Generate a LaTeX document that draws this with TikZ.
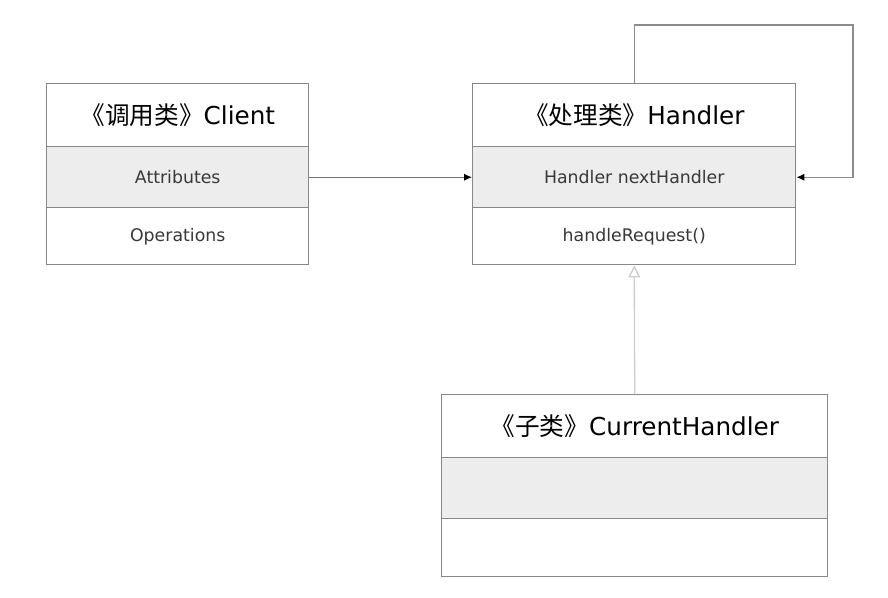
\documentclass[tikz,border=0pt]{standalone}
\usepackage{fontspec}
\setmainfont{DejaVu Sans}
\newfontfamily\cjk{Noto Sans CJK SC}
\usetikzlibrary{arrows.meta}
\begin{document}
\begin{tikzpicture}[x=0.75pt,y=-0.75pt,
  box/.style={draw=black!47, line width=1.1pt, rectangle, inner sep=0pt, anchor=north west, font=\fontsize{13}{15}\selectfont, text=black!78},
  titlebox/.style={box, fill=white, font=\fontsize{18.5}{22}\selectfont, text=black},
  attrbox/.style={box, fill=black!7},
  opbox/.style={box, fill=white},
  assoc/.style={draw=black!55, line width=0.9pt, -{Latex[length=6pt,width=5.5pt,color=black]}},
  inherit/.style={draw=black!20, line width=1pt, -{Triangle[open, length=9pt, width=9pt, fill=white]}}
]
\useasboundingbox (0,0) rectangle (888,598);
% Client
\node[titlebox, minimum width=262*0.75pt, minimum height=63*0.75pt] (ct) at (46,83) {{\cjk 《调用类》}Client};
\node[attrbox, minimum width=262*0.75pt, minimum height=61*0.75pt] (ca) at (46,146) {Attributes};
\node[opbox, minimum width=262*0.75pt, minimum height=57*0.75pt] (co) at (46,207) {Operations};
% Handler
\node[titlebox, minimum width=323*0.75pt, minimum height=63*0.75pt] (ht) at (472,83) {{\cjk 《处理类》}Handler};
\node[attrbox, minimum width=323*0.75pt, minimum height=61*0.75pt] (ha) at (472,146) {Handler nextHandler};
\node[opbox, minimum width=323*0.75pt, minimum height=57*0.75pt] (ho) at (472,207) {handleRequest()};
% CurrentHandler
\node[titlebox, minimum width=386*0.75pt, minimum height=63*0.75pt] (st) at (441,394) {{\cjk 《子类》}CurrentHandler};
\node[attrbox, minimum width=386*0.75pt, minimum height=61*0.75pt] (sa) at (441,457) {};
\node[opbox, minimum width=386*0.75pt, minimum height=58*0.75pt] (so) at (441,518) {};
% connectors
\draw[assoc] (ca.east) -- (ha.west);
\coordinate (l1) at (ht.north |- 0,25);
\coordinate (l2) at (853,25);
\coordinate (l3) at (853,0 |- ha.east);
\draw[assoc, draw=black!45] (ht.north) -- (l1) -- (l2) -- (l3) -- (ha.east);
\draw[inherit] (st.north) -- (ho.south);
\end{tikzpicture}
\end{document}
